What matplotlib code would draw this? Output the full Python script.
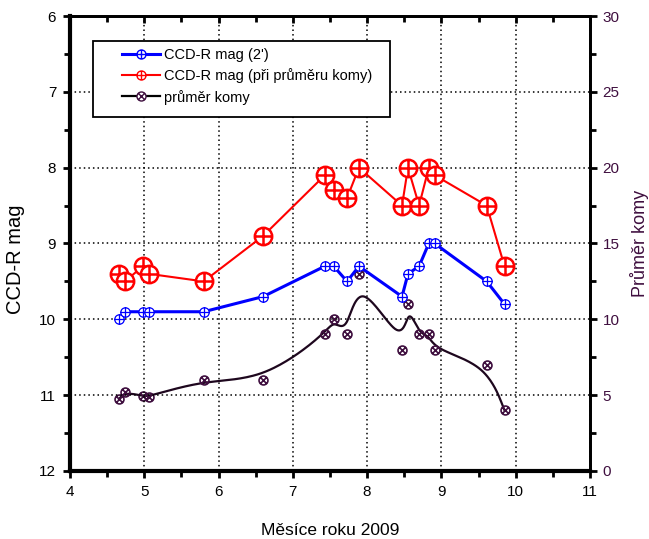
import numpy as np
import matplotlib
matplotlib.use("Agg")
from matplotlib import pyplot as plt
from matplotlib.path import Path
from matplotlib.patches import Rectangle
from matplotlib.ticker import MultipleLocator

# data
mesic = [4.66, 4.74, 4.98, 5.06, 5.80, 6.60, 7.43, 7.55, 7.73, 7.89,
         8.47, 8.55, 8.70, 8.83, 8.91, 9.61, 9.85]
mag_2 = [10.0, 9.9, 9.9, 9.9, 9.9, 9.7, 9.3, 9.3, 9.5, 9.3,
         9.7, 9.4, 9.3, 9.0, 9.0, 9.5, 9.8]
mag_koma = [9.4, 9.5, 9.3, 9.4, 9.5, 8.9, 8.1, 8.3, 8.4, 8.0,
            8.5, 8.0, 8.5, 8.0, 8.1, 8.5, 9.3]
prumer = [4.75, 5.2, 4.95, 4.9, 6.0, 6.0, 9.0, 10.0, 9.0, 13.0,
          8.0, 11.0, 9.0, 9.0, 8.0, 7.0, 4.0]

labels = ["CCD-R mag (2')", "CCD-R mag (při průměru komy)", "průměr komy"]

plt.rcParams['font.family'] = ['Liberation Sans', 'DejaVu Sans']
purple = '#3f0f3f'


def cross_marker(rot):
    c = Path.unit_circle()
    if rot:
        a = 0.7071
        v = [(-a, -a), (a, a), (-a, a), (a, -a)]
    else:
        v = [(-1, 0), (1, 0), (0, -1), (0, 1)]
    cr = Path(v, [Path.MOVETO, Path.LINETO, Path.MOVETO, Path.LINETO])
    return Path.make_compound_path(c, cr)


def bspline(xs, ys, n=30):
    # uniform cubic B-spline with the points as control points (clamped ends)
    P = np.column_stack([xs, ys])
    Q = np.vstack([P[:1], P[:1], P, P[-1:], P[-1:]])
    t = np.linspace(0, 1, n)
    B = np.column_stack([(1 - t) ** 3,
                         3 * t ** 3 - 6 * t ** 2 + 4,
                         -3 * t ** 3 + 3 * t ** 2 + 3 * t + 1,
                         t ** 3]) / 6.0
    out = np.vstack([B @ Q[i:i + 4] for i in range(len(Q) - 3)])
    return out[:, 0], out[:, 1]


oplus = cross_marker(False)
otimes = cross_marker(True)

fig = plt.figure(figsize=(6.49, 5.39), dpi=100)
ax = fig.add_axes([0.1079, 0.1262, 0.8011, 0.8441])

l1, = ax.plot(mesic, mag_2, color='#0000ff', lw=2.2, marker=oplus,
              ms=6.8, mew=0.9, mfc='white', mec='#0000ff', zorder=3)
l2, = ax.plot(mesic, mag_koma, color='#ff0000', lw=1.5, marker=oplus,
              ms=12.5, mew=1.8, mfc='white', mec='#ff0000', zorder=4)

ax.set_xlim(4, 11)
ax.set_ylim(12, 6)
ax.xaxis.set_major_locator(MultipleLocator(1))
ax.xaxis.set_minor_locator(MultipleLocator(0.5))
ax.yaxis.set_major_locator(MultipleLocator(1))
ax.yaxis.set_minor_locator(MultipleLocator(0.5))
ax.grid(True, which='major', color='black', linestyle=(0, (1, 2)), lw=1.1)
ax.tick_params(which='both', direction='out', width=2, labelsize=11,
               pad=5)
ax.tick_params(which='major', length=5)
ax.tick_params(which='minor', length=4)
for s in ['left', 'bottom']:
    ax.spines[s].set_linewidth(3)
for s in ['top', 'right']:
    ax.spines[s].set_linewidth(2)
ax.set_xlabel('Měsíce roku 2009', fontsize=12.5)
ax.xaxis.set_label_coords(0.5, -0.115)
ax.set_ylabel('CCD-R mag', fontsize=14.5)
ax.yaxis.set_label_coords(-0.087, 0.465)

# top ticks point inwards
top = ax.secondary_xaxis('top')
top.xaxis.set_major_locator(MultipleLocator(1))
top.xaxis.set_minor_locator(MultipleLocator(0.5))
top.tick_params(which='both', direction='in', width=2, labeltop=False)
top.tick_params(which='major', length=5)
top.tick_params(which='minor', length=4)
top.spines['top'].set_linewidth(2)

ax2 = ax.twinx()
sx, sy = bspline(mesic, prumer)
ax2.plot(sx, sy, color='#1e071e', lw=1.6, zorder=2)
ax2.plot(mesic, prumer, linestyle='none', marker=otimes, ms=6.4, mew=1.2,
         mfc='none', mec=purple, zorder=3)
l3, = ax2.plot([], [], color='black', lw=1.6, marker=otimes, ms=6.4,
               mew=1.1, mfc='white', mec=purple)
ax2.set_ylim(0, 30)
ax2.yaxis.set_major_locator(MultipleLocator(5))
ax2.yaxis.set_minor_locator(MultipleLocator(2.5))
ax2.tick_params(which='both', direction='out', width=2, labelsize=11,
                labelcolor=purple, pad=4)
ax2.tick_params(which='major', length=5)
ax2.tick_params(which='minor', length=4)
ax2.spines['right'].set_linewidth(2)
ax2.set_ylabel('Průměr komy', fontsize=13, color=purple)
ax2.yaxis.set_label_coords(1.077, 0.5)

# legend box
ax.add_patch(Rectangle((0.0442, 0.778), 0.5712, 0.167, transform=ax.transAxes,
                       facecolor='white', edgecolor='black', lw=1.3,
                       zorder=9))
leg = ax.legend([l1, l2, l3], labels, loc='upper left',
                bbox_to_anchor=(0.100, 0.929), fontsize=10.5,
                handlelength=2.6, handletextpad=0.3, labelspacing=0.42,
                borderpad=0, borderaxespad=0, frameon=False)
for h in leg.legend_handles:
    h.set_markersize(6.5)
    h.set_markeredgewidth(1.0)
leg.set_zorder(10)
ax.set_zorder(ax2.get_zorder() + 1)
ax.patch.set_visible(False)

fig.savefig('out.png', dpi=100)
